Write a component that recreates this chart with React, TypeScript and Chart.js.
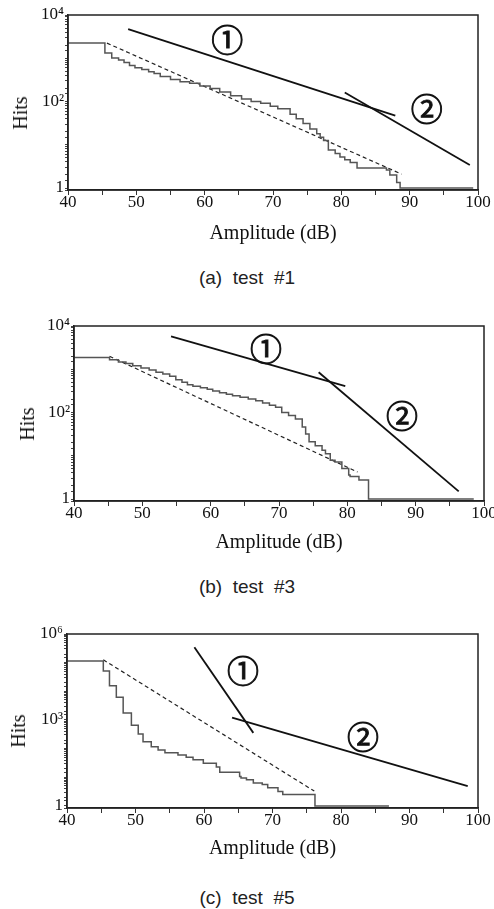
import React, { useEffect, useRef } from "react";
import { Chart, registerables } from "chart.js";

Chart.register(...registerables);

// ---------- Data: panel (a) test #1 ----------
const A_stepX = [40, 45.4, 46.4, 47.4, 48.2, 49.0, 49.8, 50.8, 51.8, 52.6, 53.5, 55.0, 56.4, 57.8, 59.3, 60.8, 62.2, 63.8, 65.4, 66.8, 68.2, 69.6, 70.7, 72.5, 73.4, 74.4, 75.4, 76.4, 76.9, 77.4, 78.1, 79.1, 79.8, 80.5, 81.3, 82.3, 86.6, 87.1, 88.1, 88.6, 89.1, 99.3];
const A_stepY = [2570, 2240, 1320, 1020, 912, 794, 676, 603, 550, 490, 447, 380, 324, 288, 263, 229, 200, 166, 135, 115, 100, 91, 78, 68, 51, 40, 31, 23, 18, 15, 12.6, 7.6, 6.3, 5.2, 4.5, 3.9, 2.9, 2.6, 2.0, 1.35, 1, 1];
const A_dashX = [45.7, 88.8];
const A_dashY = [2240, 2.1];
const A_line1X = [48.8, 87.9];
const A_line1Y = [4700, 47];
const A_line2X = [80.5, 98.8];
const A_line2Y = [162, 3.4];

// ---------- Data: panel (b) test #3 ----------
const B_stepX = [40, 45.2, 46.5, 47.6, 48.6, 49.8, 51.0, 52.0, 53.0, 54.0, 54.9, 55.8, 56.6, 57.4, 58.5, 59.5, 60.3, 61.3, 62.3, 63.2, 64.3, 65.5, 66.6, 67.6, 68.6, 69.5, 70.4, 71.4, 72.4, 73.4, 73.9, 74.4, 75.3, 76.3, 76.8, 77.5, 78.2, 79.2, 80.2, 80.4, 81.7, 83.1, 83.9, 98.5];
const B_stepY = [2040, 1860, 1660, 1480, 1350, 1200, 1070, 955, 850, 776, 692, 575, 500, 437, 407, 372, 347, 316, 288, 263, 245, 224, 204, 186, 166, 148, 132, 100, 85, 71, 46, 32, 21, 17, 13.5, 11.2, 7.9, 7.2, 5.1, 3.6, 3.3, 2.75, 1, 1];
const B_dashX = [45.2, 81.5];
const B_dashY = [2000, 4.2];
const B_line1X = [54.2, 79.7];
const B_line1Y = [5750, 407];
const B_line2X = [75.8, 96.3];
const B_line2Y = [851, 1.5];

// ---------- Data: panel (c) test #5 ----------
const C_stepX = [40, 45.3, 46.2, 47.2, 48.2, 49.4, 50.4, 51.1, 52.3, 53.3, 54.3, 56.2, 57.4, 58.4, 59.9, 61.8, 62.3, 65.2, 65.4, 66.2, 67.2, 68.5, 69.3, 70.8, 71.5, 76.2, 77.1, 87.0];
const C_stepY = [148000, 115000, 51000, 15800, 6170, 1740, 660, 324, 174, 117, 89, 72, 60, 50, 41, 31, 23, 15, 10.7, 9.5, 8.3, 6.3, 5.6, 4.3, 3.2, 2.5, 1, 1];
const C_dashX = [45.3, 76.1];
const C_dashY = [126000, 3.3];
const C_line1X = [58.6, 67.2];
const C_line1Y = [347000, 355];
const C_line2X = [64.1, 98.5];
const C_line2Y = [1200, 4.9];

// ---------- Tick labels ----------
const X_TICK_LABELS = ["40", "50", "60", "70", "80", "90", "100"];
const AB_Y_TICKS = [1, 100, 10000];
const AB_Y_LABELS = ["1", "10²", "10⁴"];
const C_Y_TICKS = [1, 1000, 1000000];
const C_Y_LABELS = ["1", "10³", "10⁶"];
const MARK_TEXT = ["①", "②"];

// annotation anchors (data coordinates)
const A_markX = [63.3, 92.5];
const A_markY = [2690, 67];
const B_markX = [68.1, 88.0];
const B_markY = [2950, 85];
const C_markX = [65.7, 83.2];
const C_markY = [50000, 250];

const SERIF = '"Liberation Serif", "Times New Roman", serif';

const pts = (xs: number[], ys: number[]) => xs.map((x, i) => ({ x, y: ys[i] }));

const framePlugin = {
  id: "frame",
  afterDatasetsDraw(chart: any, _args: any, opts: any) {
    const { ctx, chartArea: a, scales } = chart;
    ctx.save();
    ctx.strokeStyle = "#222";
    ctx.lineWidth = 1.5;
    ctx.strokeRect(a.left, a.top, a.right - a.left, a.bottom - a.top);
    ctx.font = '32px "Noto Sans CJK KR", "DejaVu Sans", sans-serif';
    ctx.fillStyle = "#111";
    ctx.strokeStyle = "#111";
    ctx.lineWidth = 0.9;
    ctx.textAlign = "center";
    ctx.textBaseline = "middle";
    const xs: number[] = opts.markX || [];
    const ys: number[] = opts.markY || [];
    xs.forEach((mx, i) => {
      const px = scales.x.getPixelForValue(mx);
      const py = scales.y.getPixelForValue(ys[i]);
      ctx.fillText(MARK_TEXT[i], px, py);
      ctx.strokeText(MARK_TEXT[i], px, py);
    });
    ctx.restore();
  },
};

type PanelCfg = {
  top: number;
  height: number;
  area: { left: number; right: number; top: number; bottom: number };
  xh: number;
  yMin: number;
  yMax: number;
  yTicks: number[];
  yLabels: string[];
  step: { x: number; y: number }[];
  dash: { x: number; y: number }[];
  line1: { x: number; y: number }[];
  line2: { x: number; y: number }[];
  markX: number[];
  markY: number[];
  hitsX: number;
  caption: string;
  captionY: number;
};

const PANELS: PanelCfg[] = [
  {
    top: 0, height: 260,
    area: { left: 68, right: 478, top: 15, bottom: 190 },
    xh: 56, yMin: 0.9, yMax: 10000, yTicks: AB_Y_TICKS, yLabels: AB_Y_LABELS,
    step: pts(A_stepX, A_stepY), dash: pts(A_dashX, A_dashY),
    line1: pts(A_line1X, A_line1Y), line2: pts(A_line2X, A_line2Y),
    markX: A_markX, markY: A_markY, hitsX: 20,
    caption: "(a)  test  #1", captionY: 278,
  },
  {
    top: 300, height: 260,
    area: { left: 74, right: 484, top: 326, bottom: 501 },
    xh: 54, yMin: 0.9, yMax: 10000, yTicks: AB_Y_TICKS, yLabels: AB_Y_LABELS,
    step: pts(B_stepX, B_stepY), dash: pts(B_dashX, B_dashY),
    line1: pts(B_line1X, B_line1Y), line2: pts(B_line2X, B_line2Y),
    markX: B_markX, markY: B_markY, hitsX: 27,
    caption: "(b)  test  #3", captionY: 587,
  },
  {
    top: 610, height: 260,
    area: { left: 67, right: 478, top: 634, bottom: 808 },
    xh: 53, yMin: 0.85, yMax: 1000000, yTicks: C_Y_TICKS, yLabels: C_Y_LABELS,
    step: pts(C_stepX, C_stepY), dash: pts(C_dashX, C_dashY),
    line1: pts(C_line1X, C_line1Y), line2: pts(C_line2X, C_line2Y),
    markX: C_markX, markY: C_markY, hitsX: 18,
    caption: "(c)  test  #5", captionY: 898,
  },
];

function Panel({ p }: { p: PanelCfg }) {
  const ref = useRef<HTMLCanvasElement>(null);
  useEffect(() => {
    const a = p.area;
    const chart = new Chart(ref.current as HTMLCanvasElement, {
      type: "line",
      data: {
        datasets: [
          { data: p.step, stepped: "after", borderColor: "#555", borderWidth: 1.5, pointRadius: 0 },
          { data: p.dash, borderColor: "#222", borderWidth: 1.2, borderDash: [4, 3], pointRadius: 0 },
          { data: p.line1, borderColor: "#111", borderWidth: 1.8, pointRadius: 0 },
          { data: p.line2, borderColor: "#111", borderWidth: 1.8, pointRadius: 0 },
        ] as any,
      },
      options: {
        responsive: false,
        animation: false,
        events: [],
        layout: {
          padding: {
            left: 0,
            right: 494 - a.right,
            top: a.top - p.top,
            bottom: p.top + p.height - a.bottom - p.xh,
          },
        },
        plugins: {
          legend: { display: false },
          tooltip: { enabled: false },
          frame: { markX: p.markX, markY: p.markY },
        } as any,
        scales: {
          x: {
            type: "linear",
            min: 40,
            max: 100,
            afterFit: (s: any) => {
              s.height = p.xh;
              s.paddingLeft = 0;
              s.paddingRight = 0;
            },
            grid: { display: true, drawOnChartArea: false, drawTicks: true, tickLength: 5, color: "#333" },
            border: { display: true, color: "#222", width: 1.5 },
            ticks: {
              stepSize: 5,
              autoSkip: false,
              maxRotation: 0,
              padding: -3,
              color: "#111",
              font: { family: SERIF, size: 17 },
              callback: (v: any) => {
                const n = Number(v);
                if (Math.abs(n % 10) > 1e-6) return "";
                const idx = Math.round((n - 40) / 10);
                return X_TICK_LABELS[idx] ?? "";
              },
            },
            title: {
              display: true,
              text: "Amplitude (dB)",
              color: "#111",
              font: { family: SERIF, size: 20 },
              padding: { top: 0, bottom: 0 },
            },
          },
          y: {
            type: "logarithmic",
            min: p.yMin,
            max: p.yMax,
            afterFit: (s: any) => {
              s.width = a.left;
              s.paddingTop = 0;
              s.paddingBottom = 0;
            },
            grid: { display: true, drawOnChartArea: false, drawTicks: true, tickLength: 3, color: "#444" },
            border: { display: true, color: "#222", width: 1.5 },
            ticks: {
              autoSkip: false,
              padding: 1,
              color: "#111",
              font: { family: SERIF, size: 17 },
              callback: (v: any) => {
                const n = Number(v);
                const i = p.yTicks.findIndex((t) => Math.abs(Math.log10(t) - Math.log10(n)) < 1e-6);
                return i >= 0 ? p.yLabels[i] : "";
              },
            },
            title: { display: false },
          },
        },
      },
      plugins: [framePlugin],
    } as any);
    return () => chart.destroy();
  }, [p]);

  const midY = (p.area.top + p.area.bottom) / 2 + 10;
  return (
    <>
      <canvas
        ref={ref}
        width={494}
        height={p.height}
        style={{ position: "absolute", left: 0, top: p.top, width: 494, height: p.height }}
      />
      <div
        style={{
          position: "absolute",
          left: p.hitsX,
          top: midY,
          transform: "translate(-50%, -50%) rotate(-90deg)",
          fontFamily: SERIF,
          fontSize: 20,
          color: "#111",
          whiteSpace: "nowrap",
          lineHeight: "22px",
        }}
      >
        Hits
      </div>
      <div
        style={{
          position: "absolute",
          left: 0,
          width: 494,
          top: p.captionY - 12,
          textAlign: "center",
          fontFamily: '"Liberation Sans", Arial, sans-serif',
          fontSize: 19,
          lineHeight: "24px",
          color: "#222",
          whiteSpace: "pre",
        }}
      >
        {p.caption}
      </div>
    </>
  );
}

export default function App() {
  return (
    <div style={{ position: "absolute", left: 0, top: 0, width: 494, height: 909, background: "#fff", overflow: "hidden" }}>
      {PANELS.map((p, i) => (
        <Panel key={i} p={p} />
      ))}
    </div>
  );
}
